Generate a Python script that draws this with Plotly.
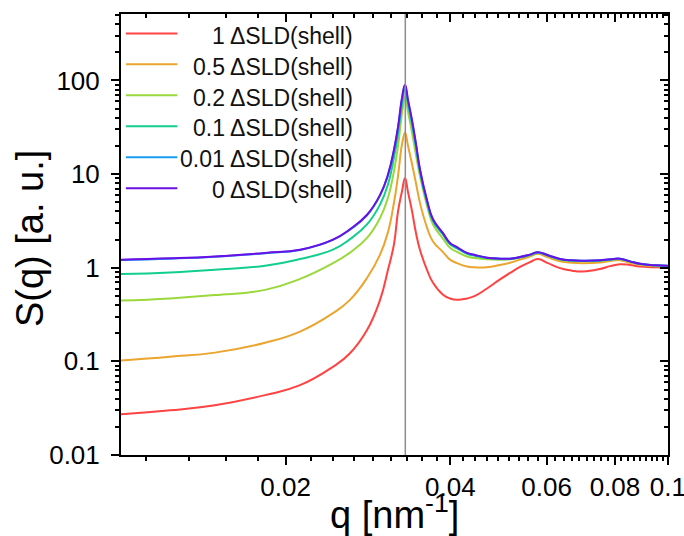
import plotly.graph_objects as go

# ---------------- data ----------------
q = [0.0100, 0.01229, 0.01485, 0.01834, 0.02125, 0.02441, 0.02622, 0.02817, 0.02976, 0.03077,
     0.03156, 0.03210, 0.03265, 0.03306, 0.03348, 0.03404, 0.03462, 0.03521, 0.03626, 0.03719,
     0.03879, 0.03995, 0.04114, 0.04291, 0.04438, 0.04669, 0.04932, 0.05144, 0.05364, 0.05595,
     0.05786, 0.06034, 0.06349, 0.06675, 0.06992, 0.07509, 0.07834, 0.08170, 0.08521, 0.08887,
     0.09508, 0.1000]

s_1 = [0.0272, 0.030, 0.034, 0.0436, 0.0557, 0.0875, 0.122, 0.216, 0.454, 0.95,
       1.79, 4.0, 6.6, 9.1, 6.4, 4.05, 2.35, 1.55, 0.95, 0.69,
       0.515, 0.47, 0.454, 0.47, 0.50, 0.60, 0.75, 0.88, 1.02, 1.15,
       1.24, 1.12, 0.99, 0.93, 0.91, 0.97, 1.04, 1.09, 1.07, 1.03,
       1.01, 1.0]
s_05 = [0.102, 0.112, 0.124, 0.158, 0.208, 0.327, 0.454, 0.776, 1.38, 2.4,
        4.98, 9.6, 21, 27.7, 20, 12.9, 8.0, 4.9, 2.7, 1.91,
        1.47, 1.22, 1.12, 1.03, 1.01, 1.01, 1.07, 1.13, 1.22, 1.32,
        1.41, 1.29, 1.17, 1.13, 1.12, 1.14, 1.18, 1.20, 1.13, 1.07,
        1.04, 1.03]
s_02 = [0.446, 0.47, 0.51, 0.58, 0.76, 1.12, 1.45, 2.08, 3.4, 5.6,
        10.8, 20, 45, 66, 46, 28, 16, 9.5, 4.6, 2.9,
        2.05, 1.63, 1.48, 1.32, 1.27, 1.23, 1.22, 1.23, 1.28, 1.36,
        1.44, 1.34, 1.22, 1.18, 1.17, 1.18, 1.21, 1.23, 1.16, 1.09,
        1.05, 1.04]
s_01 = [0.855, 0.89, 0.95, 1.05, 1.24, 1.56, 2.02, 2.9, 4.74, 7.75,
        15.1, 27, 56, 80, 56, 34, 19.5, 10.5, 5.0, 3.15,
        2.25, 1.78, 1.61, 1.41, 1.34, 1.27, 1.24, 1.24, 1.29, 1.37,
        1.45, 1.35, 1.23, 1.19, 1.18, 1.19, 1.22, 1.24, 1.17, 1.10,
        1.06, 1.04]
s_001 = [1.21, 1.25, 1.31, 1.43, 1.55, 1.98, 2.55, 3.62, 5.9, 9.7,
         17.9, 31, 64, 88, 60, 37, 20.6, 11.0, 5.2, 3.27,
         2.32, 1.83, 1.65, 1.43, 1.36, 1.28, 1.25, 1.25, 1.30, 1.38,
         1.46, 1.36, 1.24, 1.20, 1.19, 1.20, 1.23, 1.25, 1.17, 1.10,
         1.06, 1.05]
s_0 = [1.22, 1.26, 1.32, 1.44, 1.56, 2.0, 2.58, 3.68, 6.0, 9.9,
       18.3, 32, 66, 90, 62, 38, 21, 11.2, 5.3, 3.3,
       2.34, 1.84, 1.66, 1.44, 1.37, 1.28, 1.25, 1.25, 1.30, 1.38,
       1.46, 1.36, 1.24, 1.20, 1.19, 1.20, 1.23, 1.25, 1.17, 1.10,
       1.06, 1.05]

series_names = ["1 \u0394SLD(shell)", "0.5 \u0394SLD(shell)", "0.2 \u0394SLD(shell)",
                "0.1 \u0394SLD(shell)", "0.01 \u0394SLD(shell)", "0 \u0394SLD(shell)"]
series_values = [s_1, s_05, s_02, s_01, s_001, s_0]
series_colors = ["#FF4242", "#EBA52E", "#9AD83C", "#12CE8E", "#1A9CEE", "#6A10E6"]

peak_q = [0.0331, 0.0331]
peak_y = [0.001, 10000]

x_tickvals = [0.02, 0.04, 0.06, 0.08, 0.1]
x_ticktext = ["0.02", "0.04", "0.06", "0.08", "0.1"]
y_tickvals = [0.01, 0.1, 1, 10, 100]
y_ticktext = ["0.01", "0.1", "1", "10", "100"]
x_title = "q [nm<sup>-1</sup>]"
y_title = "S(q) [a. u.]"

# ---------------- axis helpers ----------------
x_range = [-2, -0.9999]
y_range = [-2, 2.71]
x_minor = [k * 0.02 / 9 for k in range(5, 46) if k % 9 != 0]
y_minor = [m * 10.0 ** d for d in range(-2, 3) for m in range(2, 10) if m * 10.0 ** d <= 510]

FONT = "Arial, 'Liberation Sans', sans-serif"

fig = go.Figure()

# reference vertical line at the peak position
fig.add_trace(go.Scatter(x=peak_q, y=peak_y, mode="lines",
                         line=dict(color="#8C8C8C", width=1.5),
                         showlegend=False, hoverinfo="skip",
                         xaxis="x2", yaxis="y2"))

for name, vals, col in zip(series_names, series_values, series_colors):
    fig.add_trace(go.Scatter(x=q, y=vals, mode="lines", name=name,
                             line=dict(color=col, width=2, shape="spline", smoothing=1.3),
                             showlegend=False))

# custom legend (right-aligned text like the original)
row_y0 = 0.956
row_dy = 0.0702
for i, (name, col) in enumerate(zip(series_names, series_colors)):
    yy = row_y0 - i * row_dy
    fig.add_shape(type="line", xref="paper", yref="paper",
                  x0=0.009, x1=0.103, y0=yy, y1=yy,
                  line=dict(color=col, width=2))
    fig.add_annotation(xref="paper", yref="paper", x=0.427, y=yy - 0.005,
                       text=name, showarrow=False, xanchor="right", yanchor="middle",
                       font=dict(family=FONT, size=23, color="#111111"))

# axis titles
fig.add_annotation(xref="paper", yref="paper", x=0.5, y=-0.13, text=x_title,
                   showarrow=False, xanchor="center", yanchor="middle",
                   font=dict(family=FONT, size=38, color="black"))
fig.add_annotation(xref="paper", yref="paper", x=-0.166, y=0.49, text=y_title,
                   showarrow=False, xanchor="center", yanchor="middle", textangle=-90,
                   font=dict(family=FONT, size=38, color="black"))

axis_common = dict(showgrid=False, zeroline=False, type="log", automargin=False)

fig.update_layout(
    width=684, height=536, autosize=False,
    margin=dict(l=121, r=16, t=14, b=81, pad=0),
    paper_bgcolor="white", plot_bgcolor="white",
    font=dict(family=FONT, color="black"),
    showlegend=False,
    xaxis=dict(**axis_common, range=x_range,
               showline=True, linecolor="black", linewidth=2, mirror=True,
               ticks="outside", ticklen=8, tickwidth=1.5, tickcolor="black",
               tickvals=x_tickvals, ticktext=x_ticktext, ticklabeloverflow="allow",
               tickfont=dict(family=FONT, size=26, color="black"),
               minor=dict(tickvals=x_minor, ticks="outside", ticklen=4,
                          tickwidth=1.5, tickcolor="black")),
    yaxis=dict(**axis_common, range=y_range,
               showline=True, linecolor="black", linewidth=2, mirror=True,
               ticks="outside", ticklen=8, tickwidth=1.5, tickcolor="black",
               tickvals=y_tickvals, ticktext=y_ticktext,
               ticklabelstandoff=6,
               tickfont=dict(family=FONT, size=26, color="black"),
               minor=dict(tickvals=y_minor, ticks="outside", ticklen=4,
                          tickwidth=1.5, tickcolor="black")),
    xaxis2=dict(**axis_common, range=x_range, overlaying="x", side="top", anchor="y2",
                showline=False, ticks="inside", ticklen=8, tickwidth=1.5, tickcolor="black",
                tickvals=x_tickvals, showticklabels=False,
                minor=dict(tickvals=x_minor, ticks="inside", ticklen=4,
                           tickwidth=1.5, tickcolor="black")),
    yaxis2=dict(**axis_common, range=y_range, overlaying="y", side="right", anchor="x2",
                showline=False, ticks="inside", ticklen=8, tickwidth=1.5, tickcolor="black",
                tickvals=y_tickvals, showticklabels=False,
                minor=dict(tickvals=y_minor, ticks="inside", ticklen=4,
                           tickwidth=1.5, tickcolor="black")),
)

fig.write_html("out.html")
